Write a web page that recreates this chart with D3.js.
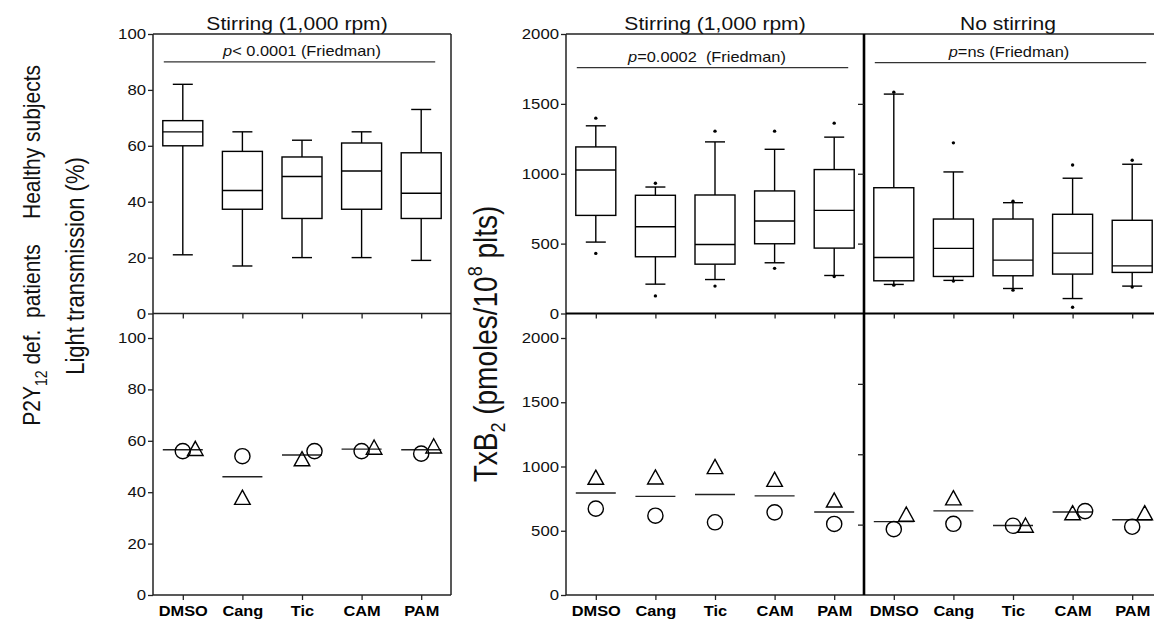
<!DOCTYPE html>
<html>
<head>
<meta charset="utf-8">
<script src="https://cdn.jsdelivr.net/npm/d3@7"></script>
<style>
  html, body { margin: 0; padding: 0; background: #fff; }
  svg { display: block; font-family: "Liberation Sans", Arial, Helvetica, sans-serif; }
</style>
</head>
<body>
<svg id="fig" width="1154" height="619"></svg>
<script>
// ---- data ----
const categories = ["DMSO", "Cang", "Tic", "CAM", "PAM"];

// Light transmission (%), healthy subjects, stirring: [min, q1, median, q3, max]
const ltHealthy = [
  [21, 60, 65, 69, 82],
  [17, 37.3, 44, 58, 65],
  [20, 34, 49, 56, 62],
  [20, 37.3, 51, 61, 65],
  [19, 34, 43, 57.5, 73]
];

// TxB2 (pmoles/10^8 plts), healthy subjects, stirring: [min, q1, median, q3, max]
const txStirHealthy = [
  [511, 702, 1027, 1192, 1343],
  [210, 406, 621, 846, 905],
  [243, 353, 494, 848, 1228],
  [363, 499, 662, 877, 1175],
  [272, 468, 738, 1030, 1262]
];
const txStirOutliers = [[430, 1398], [126, 932], [196, 1305], [323, 1305], [265, 1362]];

// TxB2, healthy subjects, no stirring: [min, q1, median, q3, max]
const txNoStirHealthy = [
  [208, 234, 401, 900, 1570],
  [237, 265, 466, 676, 1013],
  [179, 270, 382, 676, 793],
  [107, 282, 432, 710, 968],
  [196, 294, 341, 667, 1068]
];
const txNoStirOutliers = [[203, 1584], [232, 1221], [167, 803], [45, 1063], [189, 1097]];

// P2Y12-deficient patients (patient 1 = circle, patient 2 = triangle)
const ltPatientCircle   = [56, 54, 56, 56, 55];
const ltPatientTriangle = [57, 38, 53, 57.5, 58];
const txStirCircle      = [672, 617, 566, 643, 553];
const txStirTriangle    = [916, 918, 999, 900, 739];
const txNoStirCircle    = [468, 506, 492, 596, 485];
const txNoStirTriangle  = [574, 690, 496, 584, 584];

const panelTitles = ["Stirring (1,000 rpm)", "Stirring (1,000 rpm)", "No stirring"];
const pTexts = ["< 0.0001 (Friedman)", "=0.0002  (Friedman)", "=ns (Friedman)"];
const bracketLevels = [90, 1760, 1795];
const ltTicks = [0, 20, 40, 60, 80, 100];
const txTicks = [0, 500, 1000, 1500, 2000];

// ---- layout ----
const svg = d3.select("#fig");
const TOP = 34, MID = 313.5, BOT = 595;
const panelW = 298;
const xLeft = 153, xStir = 566, xNoStir = 864;
const SX = 1.17;              // lettering is set slightly wide
const INK = "#111";

const xL  = d3.scalePoint(categories, [xLeft, xLeft + panelW]).padding(0.5);
const xS  = d3.scalePoint(categories, [xStir, xStir + panelW]).padding(0.5);
const xN  = d3.scalePoint(categories, [xNoStir, xNoStir + panelW]).padding(0.5);

const yLtTop  = d3.scaleLinear([0, 100], [MID, TOP]);
const yLtBot  = d3.scaleLinear([0, 100], [BOT, 338]);
const yTxTop  = d3.scaleLinear([0, 2000], [MID, TOP]);
const yTxBot  = d3.scaleLinear([0, 2000], [BOT, 338]);
const yTxBotN = d3.scaleLinear([0, 2000], [BOT, MID]);

// ---- helpers ----
function frameLine(x1, y1, x2, y2, w = 1.5, c = "#222") {
  svg.append("line").attr("x1", x1).attr("y1", y1).attr("x2", x2).attr("y2", y2)
    .attr("stroke", c).attr("stroke-width", w);
}

function hText(x, y, size) {
  return svg.append("text").attr("transform", `translate(${x},${y}) scale(${SX},1)`)
    .attr("text-anchor", "middle").attr("font-size", size).attr("fill", INK)
    .style("white-space", "pre");
}

function vText(x, y, size) {
  return svg.append("text").attr("transform", `translate(${x},${y}) rotate(-90) scale(1,${SX})`)
    .attr("text-anchor", "middle").attr("font-size", size).attr("fill", INK)
    .style("white-space", "pre");
}

function yAxis(x0, scale, ticks, labels = true, size = 5) {
  const g = svg.append("g").attr("transform", `translate(${x0},0)`)
    .call(d3.axisLeft(scale).tickValues(ticks).tickSize(size).tickPadding(1)
      .tickFormat(labels ? d3.format("d") : ""));
  g.select(".domain").remove();
  g.selectAll(".tick line").attr("stroke", "#222").attr("stroke-width", 1.3);
  g.selectAll(".tick text").attr("font-size", 14.3).attr("fill", INK)
    .attr("font-family", "Liberation Sans, Arial, sans-serif")
    .attr("transform", `scale(${SX},1)`);
  return g;
}

function xAxis(y0, scale, labels) {
  const g = svg.append("g").attr("transform", `translate(0,${y0})`)
    .call(d3.axisBottom(scale).tickSize(5).tickPadding(6)
      .tickFormat(labels ? (d => d) : ""));
  g.select(".domain").remove();
  g.selectAll(".tick line").attr("stroke", "#222").attr("stroke-width", 1.3);
  g.selectAll(".tick text").attr("font-size", 14).attr("font-weight", "bold")
    .attr("fill", "#000").attr("font-family", "Liberation Sans, Arial, sans-serif")
    .attr("transform", `scale(${SX},1)`);
  return g;
}

function boxes(x, y, stats, outliers) {
  const g = svg.append("g").attr("fill", "none").attr("stroke", "#000").attr("stroke-width", 1.4);
  const bw = 20, cw = 10;
  const rows = stats.map((s, i) => ({ c: categories[i], s, o: outliers ? outliers[i] : [] }));
  const item = g.selectAll("g.box").data(rows).join("g").attr("class", "box");
  item.append("line").attr("x1", d => x(d.c)).attr("x2", d => x(d.c))
    .attr("y1", d => y(d.s[0])).attr("y2", d => y(d.s[1]));
  item.append("line").attr("x1", d => x(d.c)).attr("x2", d => x(d.c))
    .attr("y1", d => y(d.s[3])).attr("y2", d => y(d.s[4]));
  item.append("line").attr("x1", d => x(d.c) - cw).attr("x2", d => x(d.c) + cw)
    .attr("y1", d => y(d.s[0])).attr("y2", d => y(d.s[0]));
  item.append("line").attr("x1", d => x(d.c) - cw).attr("x2", d => x(d.c) + cw)
    .attr("y1", d => y(d.s[4])).attr("y2", d => y(d.s[4]));
  item.append("rect").attr("x", d => x(d.c) - bw).attr("width", bw * 2)
    .attr("y", d => y(d.s[3])).attr("height", d => y(d.s[1]) - y(d.s[3]))
    .attr("fill", "#fff");
  item.append("line").attr("x1", d => x(d.c) - bw).attr("x2", d => x(d.c) + bw)
    .attr("y1", d => y(d.s[2])).attr("y2", d => y(d.s[2]));
  item.selectAll("circle").data(d => d.o.map(v => ({ c: d.c, v })))
    .join("circle").attr("cx", d => x(d.c)).attr("cy", d => y(d.v))
    .attr("r", 1.7).attr("fill", "#000").attr("stroke", "none");
}

const triPath = (cx, cy) => {
  const p = d3.path();
  p.moveTo(cx, cy - 7.2); p.lineTo(cx + 7.8, cy + 7); p.lineTo(cx - 7.8, cy + 7); p.closePath();
  return p.toString();
};

function patients(x, y, circ, tri) {
  const g = svg.append("g").attr("fill", "none").attr("stroke", "#000").attr("stroke-width", 1.4);
  categories.forEach((c, i) => {
    const cx = x(c);
    const mean = (circ[i] + tri[i]) / 2;
    g.append("line").attr("x1", cx - 20).attr("x2", cx + 20)
      .attr("y1", y(mean)).attr("y2", y(mean)).attr("stroke", "#222");
    const yc = y(circ[i]), yt = y(tri[i]);
    let xc = cx, xt = cx;
    // spread overlapping symbols sideways: the higher value moves right
    if (Math.abs(yc - yt) < 18) {
      if (circ[i] > tri[i]) xc += 12.5; else xt += 12.5;
    }
    g.append("circle").attr("cx", xc).attr("cy", yc).attr("r", 7.6);
    g.append("path").attr("d", triPath(xt, yt));
  });
}

// ---- frames ----
frameLine(xLeft, TOP, xLeft, BOT);
frameLine(xLeft + panelW, TOP, xLeft + panelW, BOT);
frameLine(xLeft, TOP, xLeft + panelW, TOP);
frameLine(xLeft, MID, xLeft + panelW, MID);
frameLine(xLeft, BOT, xLeft + panelW, BOT);
frameLine(xStir, TOP, xStir, BOT);
frameLine(xStir, TOP, 1154, TOP);
frameLine(xStir, MID, 1154, MID, 2, "#000");
frameLine(xStir, BOT, 1154, BOT);
frameLine(xNoStir, TOP, xNoStir, BOT, 2.6, "#000");

// ---- axes ----
yAxis(xLeft, yLtTop, ltTicks);
yAxis(xLeft, yLtBot, ltTicks);
yAxis(xStir, yTxTop, txTicks);
yAxis(xStir, yTxBot, txTicks);
yAxis(xNoStir, yTxTop, txTicks.slice(1, 4), false, 6);
yAxis(xNoStir, yTxBotN, txTicks.slice(1, 4), false, 6);

xAxis(MID, xL, false);
xAxis(MID, xS, false);
xAxis(MID, xN, false);
xAxis(BOT, xL, true);
xAxis(BOT, xS, true);
xAxis(BOT, xN, true);

// ---- marks ----
boxes(xL, yLtTop, ltHealthy, null);
boxes(xS, yTxTop, txStirHealthy, txStirOutliers);
boxes(xN, yTxTop, txNoStirHealthy, txNoStirOutliers);

patients(xL, yLtBot, ltPatientCircle, ltPatientTriangle);
patients(xS, yTxBot, txStirCircle, txStirTriangle);
patients(xN, yTxBotN, txNoStirCircle, txNoStirTriangle);

// ---- Friedman brackets ----
const brackets = [
  { x: xL, y: yLtTop, lvl: bracketLevels[0], p: pTexts[0], dx: 0 },
  { x: xS, y: yTxTop, lvl: bracketLevels[1], p: pTexts[1], dx: -8 },
  { x: xN, y: yTxTop, lvl: bracketLevels[2], p: pTexts[2], dx: -4 }
];
brackets.forEach(b => {
  const x1 = b.x(categories[0]) - 19, x2 = b.x(categories[4]) + 14;
  const yy = b.y(b.lvl);
  frameLine(x1, yy, Math.min(x2, 1154), yy, 1.2, "#333");
  const t = hText(b.x(categories[2]) + b.dx, yy - 6, 14);
  t.append("tspan").attr("font-style", "italic").text("p");
  t.append("tspan").text(b.p);
});

// ---- titles ----
[[xL, 0, -5], [xS, 1, 0], [xN, 2, -5]].forEach(([x, i, dx]) => {
  hText(x(categories[2]) + dx, 30, 18).text(panelTitles[i]);
});

// ---- side labels ----
vText(40, 142, 21).text("Healthy subjects");
{
  const t = vText(40, 335, 21);
  t.append("tspan").text("P2Y");
  t.append("tspan").attr("font-size", 14).attr("dy", 6).text("12");
  t.append("tspan").attr("dy", -6).text(" def.  patients");
}
vText(84, 266, 22).text("Light transmission (%)");
{
  const t = vText(497, 344, 28);
  t.append("tspan").text("TxB");
  t.append("tspan").attr("font-size", 18).attr("dy", 7).text("2");
  t.append("tspan").attr("dy", -7).text(" (pmoles/10");
  t.append("tspan").attr("font-size", 18).attr("dy", -13).text("8");
  t.append("tspan").attr("dy", 13).text(" plts)");
}
</script>
</body>
</html>
